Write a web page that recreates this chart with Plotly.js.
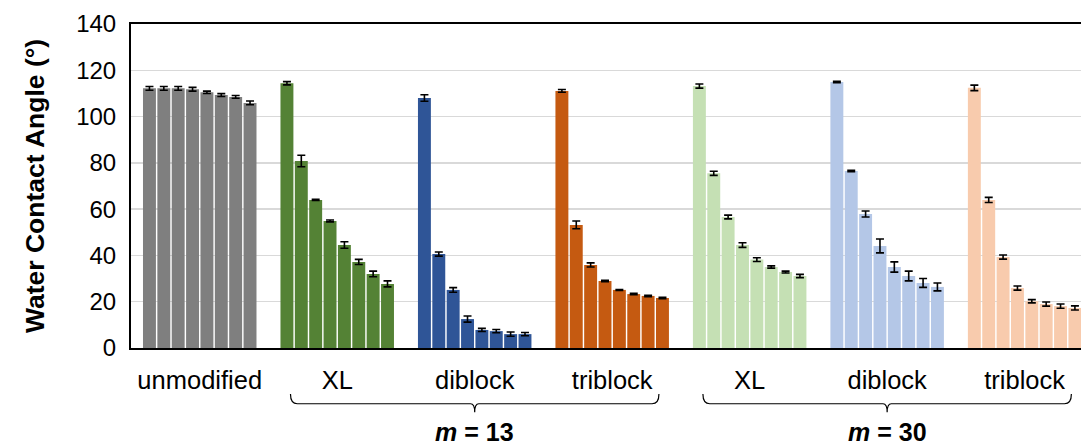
<!DOCTYPE html>
<html>
<head>
<meta charset="utf-8">
<script src="https://cdn.plot.ly/plotly-3.0.1.min.js"></script>
<style>
  html, body { margin: 0; padding: 0; background: #ffffff; }
  #chart { width: 1081px; height: 446px; }
</style>
</head>
<body>
<div id="chart"></div>
<script>
// Sample groups shown along the x axis
const groupLabels = ["unmodified", "XL", "diblock", "triblock", "XL", "diblock", "triblock"];
const groupColors = ["#7f7f7f", "#548235", "#2f5597", "#c55a11", "#c5e0b4", "#b4c7e7", "#f8cbad"];

// Water contact angles (degrees), eight measurements per group
const unmodified = [112.2, 112.2, 112.2, 111.8, 110.5, 109.3, 108.5, 105.9];
const xl13       = [114.4, 80.8, 64.0, 54.9, 44.5, 37.2, 32.0, 27.7];
const diblock13  = [108.0, 40.6, 25.1, 12.5, 7.8, 7.3, 6.0, 6.0];
const triblock13 = [111.1, 53.2, 35.9, 28.9, 25.1, 23.3, 22.5, 21.6];
const xl30       = [113.2, 75.5, 56.6, 44.5, 38.2, 35.0, 32.8, 31.1];
const diblock30  = [114.9, 76.5, 57.9, 44.1, 35.0, 31.1, 28.1, 26.4];
const triblock30 = [112.4, 64.0, 39.3, 25.9, 20.2, 19.0, 18.1, 17.3];

// Standard deviations
const unmodifiedErr = [0.8, 0.8, 0.8, 0.8, 0.5, 0.6, 0.6, 0.8];
const xl13Err       = [0.7, 2.5, 0.2, 0.4, 1.4, 1.1, 1.2, 1.3];
const diblock13Err  = [1.4, 0.9, 1.0, 1.3, 0.7, 0.7, 0.9, 0.7];
const triblock13Err = [0.6, 1.7, 0.9, 0.3, 0.2, 0.3, 0.3, 0.3];
const xl30Err       = [0.9, 0.9, 0.8, 1.0, 0.8, 0.5, 0.4, 0.7];
const diblock30Err  = [0.3, 0.3, 1.3, 3.0, 2.2, 2.1, 1.9, 1.7];
const triblock30Err = [1.2, 1.1, 0.9, 0.9, 0.7, 0.9, 0.9, 0.9];

const groups = [unmodified, xl13, diblock13, triblock13, xl30, diblock30, triblock30];
const errors = [unmodifiedErr, xl13Err, diblock13Err, triblock13Err, xl30Err, diblock30Err, triblock30Err];

const FONT = '"Liberation Sans", Arial, sans-serif';
const groupIdx = groupLabels.map((_, i) => i);

// One trace per measurement position, so each group shows eight side-by-side bars
const traces = [];
for (let k = 0; k < 8; k++) {
  traces.push({
    type: 'bar',
    x: groupIdx,
    y: groups.map(g => g[k]),
    marker: { color: groupColors, line: { width: 0 } },
    error_y: {
      type: 'data',
      array: errors.map(e => e[k]),
      visible: true,
      color: '#000000',
      thickness: 1.6,
      width: 4
    },
    showlegend: false,
    hoverinfo: 'y'
  });
}

// Curly brace under a span of groups, drawn in x data units and paper y units
function brace(x0, x1, xm) {
  const yTop = -0.142, yLine = -0.172, yTip = -0.198, r = 0.05, t = 0.03;
  return 'M ' + x0 + ',' + yTop +
    ' Q ' + x0 + ',' + yLine + ' ' + (x0 + r) + ',' + yLine +
    ' L ' + (xm - t) + ',' + yLine +
    ' Q ' + xm + ',' + yLine + ' ' + xm + ',' + yTip +
    ' Q ' + xm + ',' + yLine + ' ' + (xm + t) + ',' + yLine +
    ' L ' + (x1 - r) + ',' + yLine +
    ' Q ' + x1 + ',' + yLine + ' ' + x1 + ',' + yTop;
}

const braceStyle = { color: '#000000', width: 1.2 };
const shapes = [
  { type: 'path', xref: 'x', yref: 'paper', path: brace(0.66, 3.34, 2), line: braceStyle },
  { type: 'path', xref: 'x', yref: 'paper', path: brace(3.66, 6.34, 5), line: braceStyle }
];

const annotations = [
  { text: '<b><i>m</i> = 13</b>', x: 2, xref: 'x', y: -0.258, yref: 'paper',
    showarrow: false, font: { family: FONT, size: 25, color: '#000000' }, yanchor: 'middle' },
  { text: '<b><i>m</i> = 30</b>', x: 5, xref: 'x', y: -0.258, yref: 'paper',
    showarrow: false, font: { family: FONT, size: 25, color: '#000000' }, yanchor: 'middle' }
];

const layout = {
  width: 1081,
  height: 446,
  margin: { l: 131, r: 0, t: 24, b: 98 },
  paper_bgcolor: '#ffffff',
  plot_bgcolor: '#ffffff',
  barmode: 'group',
  bargap: 0.164,
  bargroupgap: 0.1,
  font: { family: FONT, color: '#000000' },
  xaxis: {
    range: [-0.5, 6.41],
    tickmode: 'array',
    tickvals: groupIdx,
    ticktext: groupLabels,
    tickfont: { family: FONT, size: 25.5, color: '#000000' },
    ticks: '',
    showgrid: false,
    zeroline: false,
    showline: true,
    mirror: true,
    linecolor: '#000000',
    linewidth: 2,
    ticklabelstandoff: 8,
    fixedrange: true
  },
  yaxis: {
    range: [0, 140],
    dtick: 20,
    tickfont: { family: FONT, size: 24, color: '#000000' },
    ticks: '',
    showgrid: true,
    gridcolor: '#d9d9d9',
    gridwidth: 1.5,
    zeroline: false,
    showline: true,
    linecolor: '#000000',
    linewidth: 2,
    ticklabelstandoff: 8,
    title: {
      text: '<b>Water Contact Angle (°)</b>',
      font: { family: FONT, size: 26.5, color: '#000000' },
      standoff: 24
    },
    fixedrange: true
  },
  shapes: shapes,
  annotations: annotations
};

Plotly.newPlot('chart', traces, layout, { displayModeBar: false, staticPlot: true });
</script>
</body>
</html>
